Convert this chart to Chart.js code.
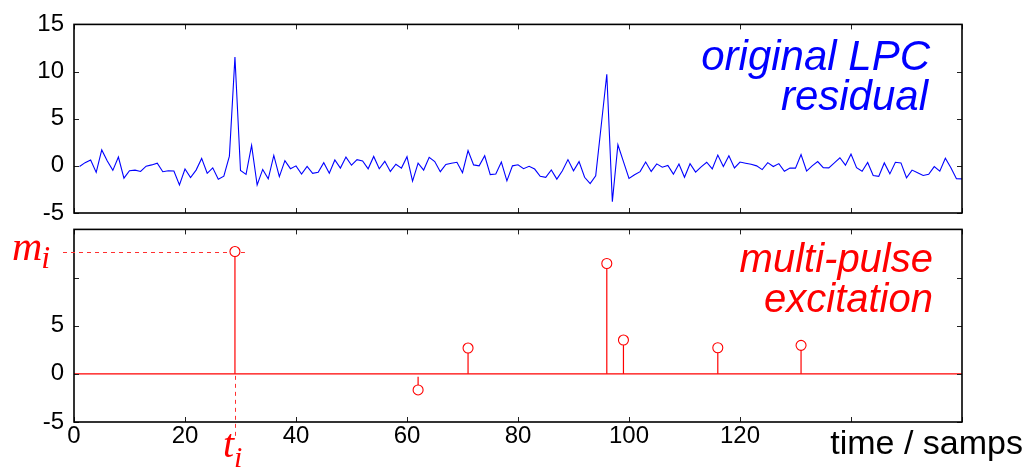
<!DOCTYPE html>
<html>
<head>
<meta charset="utf-8">
<script src="https://cdn.jsdelivr.net/npm/chart.js@4.4.1/dist/chart.umd.min.js"></script>
<style>
  html, body { margin: 0; padding: 0; background: #fff; }
  #wrap { position: relative; width: 1029px; height: 472px; overflow: hidden; }
  canvas { position: absolute; left: 0; }
  #resid { top: 0; }
  #pulse { top: 205px; }
</style>
</head>
<body>
<div id="wrap">
  <canvas id="resid" width="1029" height="240"></canvas>
  <canvas id="pulse" width="1029" height="267"></canvas>
</div>
<script>
// LPC residual, samples 1..160
const residual = [
  -0.07, 0.34, 0.62, -0.69, 1.69, 0.52, -0.48, 0.93, -1.31, -0.52,
  -0.45, -0.59, -0.03, 0.10, 0.28, -0.62, -0.52, -0.55, -2.03, -0.34,
  -1.24, -0.45, 0.79, -0.79, -0.21, -1.41, -1.10, 1.03, 11.55, -0.50,
  -0.90, 2.17, -2.03, -0.38, -1.38, 1.10, -1.14, 0.55, -0.30, 0.00,
  -0.86, -0.07, -0.79, -0.69, 0.34, -0.79, 0.62, -0.24, 0.93, 0.07,
  0.66, 0.52, -0.31, 1.00, -0.31, 0.48, -0.59, 0.17, -0.24, 0.97,
  -1.62, 0.28, -0.45, 0.90, 0.45, -0.62, 0.14, 0.28, 0.38, -0.72,
  1.62, 0.10, 0.00, 1.07, -0.93, -0.86, 0.41, -1.59, 0.00, 0.12,
  -0.30, -0.05, -0.34, -1.10, -1.22, -0.43, -1.41, -0.53, 0.66, -0.52,
  0.45, -1.21, -1.88, -1.05, 4.30, 9.72, -3.80, 2.24, 0.45, -1.33,
  -0.95, -0.61, 0.40, -0.59, 0.21, -0.15, 0.05, -0.88, 0.19, -1.21,
  0.22, -0.66, -0.10, 0.38, -0.32, 1.14, -0.08, 1.06, -0.22, 0.40,
  0.28, 0.17, 0.00, -0.40, 0.34, -0.07, 0.24, -0.57, -0.24, -0.24,
  1.19, -0.55, 0.00, 0.45, -0.19, -0.21, 0.31, 0.86, 0.07, 1.24,
  -0.20, -0.57, 0.36, -1.03, -1.12, 0.31, -0.85, 0.38, 0.31, -1.26,
  -0.45, -0.72, -1.02, -0.90, -0.08, -0.57, 0.81, -0.21, -1.36, -1.38
];

// multi-pulse excitation
const pulseTimes = [29, 62, 71, 96, 99, 116, 131];
const pulseAmps = [12.7, -1.67, 2.68, 11.46, 3.51, 2.71, 2.96];

const xTicks = [0, 20, 40, 60, 80, 100, 120];   // labelled time ticks
const yTicksBottom = [-5, 0, 5];                // labelled amplitude ticks (lower panel)

Chart.defaults.font.family = '"Liberation Sans", Arial, sans-serif';
Chart.defaults.font.size = 24;
Chart.defaults.color = '#000';

// box round the plot with inward tick marks
const boxTicks = {
  id: 'boxTicks',
  afterDatasetsDraw(chart) {
    const {ctx, chartArea: a} = chart;
    const xs = chart.scales.x, ys = chart.scales.y;
    ctx.save();
    ctx.strokeStyle = '#222';
    ctx.lineWidth = 1;
    ctx.beginPath();
    xs.ticks.forEach(t => {
      const p = Math.round(xs.getPixelForValue(t.value)) + 0.5;
      ctx.moveTo(p, a.top); ctx.lineTo(p, a.top + 5);
      ctx.moveTo(p, a.bottom); ctx.lineTo(p, a.bottom - 5);
    });
    ys.ticks.forEach(t => {
      const p = Math.round(ys.getPixelForValue(t.value)) + 0.5;
      ctx.moveTo(a.left, p); ctx.lineTo(a.left + 5, p);
      ctx.moveTo(a.right, p); ctx.lineTo(a.right - 5, p);
    });
    ctx.stroke();
    ctx.strokeStyle = '#000';
    ctx.lineWidth = 1.6;
    ctx.strokeRect(a.left, a.top, a.right - a.left, a.bottom - a.top);
    ctx.restore();
  }
};

function xScale(showLabels) {
  return {
    type: 'linear', min: 0, max: 160,
    grid: {display: false, drawTicks: false},
    border: {display: false},
    ticks: {
      display: showLabels, stepSize: 20, padding: 0, maxRotation: 0,
      callback: v => xTicks.includes(v) ? v : ''
    },
    afterFit: s => { s.height = showLabels ? 50 : 0; }
  };
}

// ---- upper panel
const residLabel = {
  id: 'residLabel',
  afterDraw(chart) {
    const {ctx, chartArea: a} = chart;
    ctx.save();
    ctx.fillStyle = '#0000ff';
    ctx.textAlign = 'right';
    ctx.font = 'italic 42px "Liberation Sans"';
    ctx.fillText('original LPC', a.right - 32, 70);
    ctx.fillText('residual', a.right - 34, 110);
    ctx.restore();
  }
};

new Chart(document.getElementById('resid'), {
  type: 'line',
  data: {
    datasets: [{
      data: residual.map((v, i) => ({x: i + 1, y: v})),
      borderColor: '#0000ff',
      borderWidth: 1.1,
      pointRadius: 0,
      tension: 0
    }]
  },
  options: {
    responsive: false,
    animation: false,
    layout: {padding: {left: 0, right: 67, top: 20, bottom: 27}},
    plugins: {legend: {display: false}, tooltip: {enabled: false}},
    scales: {
      x: xScale(false),
      y: {
        min: -5, max: 15,
        grid: {display: false, drawTicks: false},
        border: {display: false},
        ticks: {stepSize: 5, padding: 10},
        afterFit: s => { s.width = 74; }
      }
    }
  },
  plugins: [boxTicks, residLabel]
});

// ---- lower panel
const stems = {
  id: 'stems',
  beforeDatasetsDraw(chart) {
    const {ctx, chartArea: a} = chart;
    const xs = chart.scales.x, ys = chart.scales.y;
    const y0 = ys.getPixelForValue(0);
    ctx.save();
    ctx.strokeStyle = '#ff0000';
    ctx.lineWidth = 1.2;
    pulseTimes.forEach((t, i) => {
      const px = xs.getPixelForValue(t);
      const py = ys.getPixelForValue(pulseAmps[i]);
      ctx.beginPath();
      ctx.moveTo(px, pulseAmps[i] > 0 ? y0 : y0 + 3);
      ctx.lineTo(px, py + (pulseAmps[i] > 0 ? 5 : -5));
      ctx.stroke();
    });
    ctx.restore();
  },
  afterDraw(chart) {
    const {ctx, chartArea: a} = chart;
    const xs = chart.scales.x, ys = chart.scales.y;
    const y0 = ys.getPixelForValue(0);
    const px = xs.getPixelForValue(pulseTimes[0]);
    const py = ys.getPixelForValue(pulseAmps[0]);
    ctx.save();
    // guides for the first pulse
    const gy = Math.round(py) + 0.5, gx = Math.round(px) + 0.5;
    ctx.strokeStyle = '#ff3030';
    ctx.lineWidth = 1;
    ctx.setLineDash([4, 4]);
    ctx.beginPath();
    ctx.moveTo(a.left - 11, gy); ctx.lineTo(px - 6, gy);
    ctx.moveTo(px + 6, gy); ctx.lineTo(px + 12, gy);
    ctx.moveTo(gx, y0 + 2); ctx.lineTo(gx, a.bottom + 15);
    ctx.stroke();
    ctx.setLineDash([]);

    ctx.fillStyle = '#ff0000';
    ctx.textAlign = 'right';
    ctx.font = 'italic 40px "Liberation Sans"';
    ctx.fillText('multi-pulse', a.right - 29, a.top + 43);
    ctx.fillText('excitation', a.right - 29, a.top + 83);

    ctx.textAlign = 'left';
    ctx.font = 'italic 42px "Liberation Serif"';
    ctx.fillText('m', 12, py + 8);
    const mw = ctx.measureText('m').width;
    ctx.font = 'italic 32px "Liberation Serif"';
    ctx.fillText('i', 12 + mw - 1, py + 16);

    ctx.font = 'italic 40px "Liberation Serif"';
    ctx.fillText('t', px - 12, a.bottom + 35);
    const tw = ctx.measureText('t').width;
    ctx.font = 'italic 30px "Liberation Serif"';
    ctx.fillText('i', px - 12 + tw, a.bottom + 45);

    ctx.fillStyle = '#000';
    ctx.textAlign = 'right';
    ctx.font = '34px "Liberation Sans"';
    ctx.fillText('time / samps', 1023, 249);
    ctx.restore();
  }
};

new Chart(document.getElementById('pulse'), {
  type: 'scatter',
  data: {
    datasets: [{
      type: 'line',
      data: [{x: 0, y: 0}, {x: 160, y: 0}],
      borderColor: '#ff0000',
      borderWidth: 1.3,
      pointRadius: 0
    }, {
      data: pulseTimes.map((t, i) => ({x: t, y: pulseAmps[i]})),
      pointStyle: 'circle',
      pointRadius: 5,
      pointBorderWidth: 1.1,
      borderColor: '#ff0000',
      backgroundColor: 'rgba(0,0,0,0)',
      showLine: false
    }]
  },
  options: {
    responsive: false,
    animation: false,
    layout: {padding: {left: 0, right: 67, top: 24, bottom: 0}},
    plugins: {legend: {display: false}, tooltip: {enabled: false}},
    scales: {
      x: xScale(true),
      y: {
        min: -5, max: 15,
        grid: {display: false, drawTicks: false},
        border: {display: false},
        ticks: {stepSize: 5, padding: 10, callback: v => yTicksBottom.includes(v) ? v : ''},
        afterFit: s => { s.width = 74; }
      }
    }
  },
  plugins: [boxTicks, stems]
});
</script>
</body>
</html>
